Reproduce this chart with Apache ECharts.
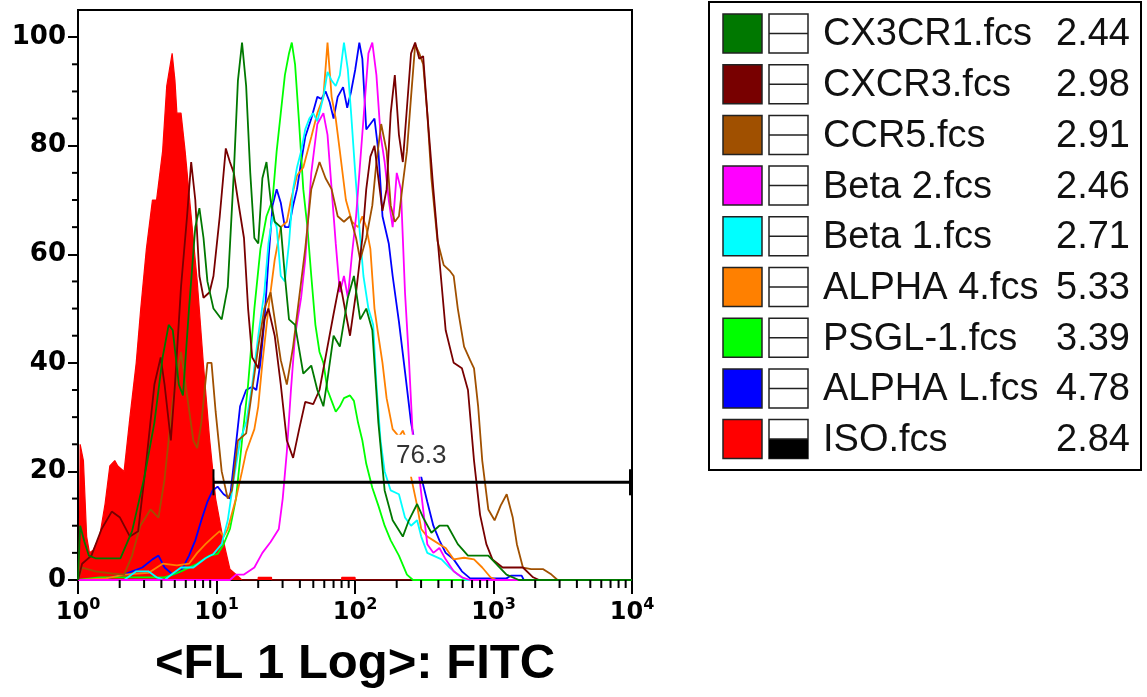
<!DOCTYPE html>
<html><head><meta charset="utf-8">
<script src="https://cdn.jsdelivr.net/npm/echarts@6/dist/echarts.min.js"></script>
<style>html,body{margin:0;padding:0;background:#fff}#c{width:1147px;height:697px}</style>
</head><body><div id="c"></div>
<script>
// x values are log-amplifier channels (64 channels per decade, 10^0..10^4 = 0..256); y = % of max
const channelsPerDecade = 64;
const xExponents = [0, 1, 2, 3, 4];
const yTicks = [0, 20, 40, 60, 80, 100];
const legendNames = ['CX3CR1.fcs','CXCR3.fcs','CCR5.fcs','Beta 2.fcs','Beta 1.fcs','ALPHA 4.fcs','PSGL-1.fcs','ALPHA L.fcs','ISO.fcs'];
const legendStats = ['2.44','2.98','2.91','2.46','2.71','5.33','3.39','4.78','2.84'];
const seriesColors = ['#007800','#780000','#A05000','#FF00FF','#00FFFF','#FF8000','#00FF00','#0000FF','#FF0000'];
const gateRange = [62.6, 256];
const gateLevel = 18;
const gateValue = '76.3';

const dataCX3CR1 = [[0,0],[1,10],[3,7],[5,4.5],[8.1,4],[13,4],[19.6,4],[25,9],[30.7,19],[35.3,29],[39.1,41],[41.9,47],[43.8,46],[46.6,36],[48.5,34],[51.3,50],[54.2,65],[56.1,68.5],[58,63],[59.8,55],[62.6,50],[66.4,48],[69.2,54],[72,75],[73.9,92],[75.8,99],[77.7,91],[79.6,75],[81.5,63],[83.3,62],[85.2,74],[87.1,77],[89,70],[90.9,66],[93.7,65],[95.6,56],[97.5,48],[100.3,47],[104.1,38],[107.8,39.5],[110.6,35],[113.4,32],[115.3,37],[118.1,45],[121,43],[124.7,52],[127.5,56],[130.4,48],[133.2,50],[136,46],[138.8,29],[141.7,16.5],[145.4,11],[150.1,8],[152.9,11],[156.7,14],[159.5,11.5],[163.3,8.7],[167,10],[170.8,10],[175.5,6.6],[180.2,4.5],[189.6,4.5],[198,1],[203.7,0],[256,0]];
const dataCXCR3 = [[0,0],[1.9,3],[6.2,4.5],[10.9,9.4],[15.6,12.6],[19.4,11.5],[24,8],[27.8,9],[31.6,22],[35.3,36],[38.2,41],[40,36],[42.9,25.7],[44.8,36],[47.6,54],[50.4,67],[52.3,77],[54.2,70],[56.1,56],[58,52],[60.8,53],[62.6,56],[65.5,67],[68.3,79.5],[70.2,77],[72,75],[73.9,70],[76.7,63],[78.6,50],[80.5,41],[83.3,39],[86.1,48],[88,50],[90.9,45],[93.7,36],[96.5,25.7],[99.4,22.5],[102.2,27.8],[105,32.8],[108.7,32.4],[111.6,35],[115.3,43],[118.1,49],[121,55],[123.8,49],[125.7,45],[128.5,53],[131.4,63],[133.2,72],[135.1,78],[137,80],[138.8,74],[140.7,68],[142.6,72],[144.5,86],[146.4,93],[148.3,82],[150.1,77],[152,87],[153.9,97],[155.8,99],[157.7,96],[159.5,96.5],[161.4,86],[164.2,72],[167,59],[169.9,46],[173.6,40],[177.4,39],[180.2,35],[183,22],[185.8,12],[188.7,6.6],[191.5,3.8],[196.2,2.3],[205.6,2.3],[210.3,0.5],[213.1,0],[256,0]];
const dataCCR5 = [[0,0],[1.9,2.3],[8.1,1.6],[15.6,1.2],[21.3,1],[25,4.5],[28.8,10],[33.5,13],[37.2,11.5],[40,18.6],[43.8,33],[47.6,42],[50.4,34],[53.3,25.7],[55.1,24.3],[57,29],[59.8,40],[61.7,40],[63.6,31],[66.4,20],[69.2,15],[71.1,16.5],[73.9,25.7],[77.7,27],[80.5,35],[83.3,43],[86.1,50],[89,53],[90.9,48],[93.7,40.5],[96.5,36],[99.4,43],[102.2,52],[105,61],[107.8,72],[111.6,77],[114.4,74],[117.2,72],[120,67],[122.9,66],[125.7,67],[128.5,63],[130.4,59],[133.2,63],[136,69],[137.9,77],[140.1,84],[142.6,79],[144.5,69],[146.4,66],[148.3,67],[150.1,73],[152,79],[153.9,89],[155.8,98.6],[157.7,97],[159.5,95],[161.4,86],[163.3,74],[166.1,62.5],[169,58],[171.7,57],[173.6,56],[175.5,50],[178.4,43],[181.2,40.5],[183,39],[184.9,32],[186.8,22],[189.6,13],[192.5,11],[195.3,13.7],[198.1,15.8],[200.9,11.5],[202.8,6.6],[205.6,2.3],[209.4,2],[215,2],[218.8,1],[221.6,0],[256,0]];
const dataBeta2 = [[0,0],[70.2,0],[73,1],[76.7,1],[81.5,2.3],[85.2,5],[89,7],[92.8,9.4],[94.6,15],[96.5,23.6],[98.4,35],[100.3,45],[103.1,52],[105,59],[107.8,75],[110.6,84],[113.4,86],[115.3,82],[117.2,72],[119.1,62],[121,53],[122.9,56],[124.7,52],[126.6,60],[128.5,67],[130.4,77],[132.3,87],[134.2,97],[136,99],[137.9,93],[139.8,82],[141.7,77],[143.6,70],[145.4,65],[147.3,75],[149.2,72],[151.1,53],[153,40],[154.8,25.7],[157.7,19],[159.5,13],[161.4,6.6],[164.2,5],[167,5.9],[169.9,3.8],[173.6,1.6],[177.4,0.5],[181.2,0],[256,0]];
const dataBeta1 = [[0,0],[21.3,0],[26.9,1.6],[32.5,1.6],[36.3,0.5],[40,0],[43.8,1.2],[47.6,2.3],[53.3,2.3],[58.9,4],[62.6,4.8],[66.4,6.6],[69.2,11],[72,18.6],[74.9,25.7],[77.7,29],[80.5,36],[83.3,45],[86.1,53],[88,62],[89.9,67],[91.8,65],[93.7,56],[95.6,55],[97.5,62],[99.4,72],[101.2,76],[103.1,79],[105,83],[106.9,85],[108.7,86],[110.6,84.5],[113.4,89],[115.3,93.6],[117.2,92],[119.1,91],[121,93],[122.9,99],[124.7,94],[126.2,86],[128.1,75],[130,65],[131.9,56],[134.2,50],[136.4,47],[137.9,36],[139.8,25.7],[141.7,20],[144.5,16.5],[148.3,15.8],[151.1,11.5],[153.9,10],[156.7,11],[158.6,8],[161.4,5],[164.2,4.5],[168,3.8],[171.7,2.3],[175.5,1],[179.3,0],[256,0]];
const dataAlpha4 = [[0,0],[13,0.3],[21.3,1],[32.5,1.3],[39.1,3],[45.7,2.7],[51.3,3],[55.1,5],[58.9,6.6],[62.6,8],[65.5,9],[67.3,8],[69.2,9.4],[73,15],[75.8,20],[77.7,23.6],[79.6,25.7],[81.5,27.8],[83.3,32],[85.2,40],[88,50],[90.9,59],[93.7,65],[96.5,66],[98.4,70],[101.2,74.5],[104.1,76],[107.8,81.6],[110.6,86],[113.4,89],[115.3,99],[117.2,89],[119.1,85],[121,79],[123.8,70],[126.6,66],[129.4,65],[131.4,67],[133.2,65],[135.1,61],[137,50],[138.8,45],[140.7,40],[142.6,33.5],[145.4,27.8],[148.3,26.4],[150.1,27.5],[152,25.7],[153.9,19],[156.7,13.7],[158.6,9.4],[161.4,8],[164.2,7.3],[167,6.6],[169.9,5.9],[173.6,3.8],[178.4,4.1],[183,3.8],[186.8,2.3],[190.6,0.5],[193.4,0],[256,0]];
const dataPSGL1 = [[0,0],[10,0.5],[40,0.5],[43.8,1],[47.6,1.6],[55.1,3],[60.8,4.5],[64.5,4.8],[67.3,6.6],[70.2,9.4],[73,15],[75.8,25.7],[78.6,36],[81.5,50],[84.3,61],[87.1,67],[89.9,70],[91.8,79],[93.7,86],[95.6,93],[97.5,97],[98.8,99],[100.3,95],[102.2,84],[104.1,72],[106,65],[107.8,56],[109.7,47],[111.6,42],[113.4,40],[115.3,35],[117.2,33],[119.1,31],[121,32],[122.9,33.5],[125.7,34],[127.5,33],[129.4,29],[131.4,25.7],[133.2,21.4],[136,17],[138.8,13.7],[141.7,10],[144.5,7.3],[148.3,4.5],[152,1],[154.8,0],[256,0]];
const dataAlphaL = [[0,0],[13,0.3],[21.3,1],[25,1.6],[29.7,2.3],[34.4,3.8],[37.2,4.5],[40,2.3],[43.8,1],[47.6,1.6],[51.3,4.5],[54.2,7.3],[57,11],[59.8,14.4],[62.2,16.5],[64.5,17.2],[67.3,15.8],[70.2,15],[73,25],[74.9,32],[77.7,35],[80.5,35.6],[82.4,35],[84.3,40],[86.1,47.6],[88,59],[89.9,69],[91.8,72],[93.7,69.5],[95.6,65],[97.5,65],[99.4,69],[101.2,72],[103.1,77],[105,81.6],[107.8,85],[110.6,89],[112.5,88.6],[114.4,90],[116.3,88],[118.1,85],[120,89],[122.5,90.8],[124.4,87],[126.2,90],[128.1,94],[130,99],[131.4,96],[133.2,83],[135.1,84],[137,85],[138.8,79],[140.7,67],[143.6,62],[145.4,56],[148.3,47.6],[151.1,38.4],[153.9,29],[158.6,19],[161.4,14.4],[164.2,10],[167,7.3],[169.9,5],[173.6,3.8],[177.4,1.6],[181.2,0.3],[198,0.3],[200,0.8],[205,0.8],[206,0],[256,0]];
const dataISO = [[0.5,0],[1,25],[2.5,22],[4,8],[5.3,5],[7,5.5],[10,8],[12.5,14],[14.7,21],[17,22],[18.4,21],[21.3,20],[24,30],[26.9,40],[29,50],[31.6,61],[34.4,70],[36.3,70],[39.1,79],[41,91],[43.5,97],[44.8,92],[45.7,86],[47.6,86],[49.5,79],[52.3,67],[55.1,55],[57.9,40],[60.8,26],[63.6,15],[67.3,7],[70.2,2],[73,1],[75.8,0],[83.2,0],[83.3,0.5],[89.4,0.5],[89.5,0],[121.8,0],[121.9,0.5],[128,0.5],[128.1,0],[256,0]];

const seriesData = [dataCX3CR1, dataCXCR3, dataCCR5, dataBeta2, dataBeta1, dataAlpha4, dataPSGL1, dataAlphaL, dataISO];

// minor tick positions (log spacing inside each decade)
const minorX = [];
for (let d = 0; d < 4; d++) for (let k = 2; k <= 9; k++) minorX.push([channelsPerDecade * (d + Math.log10(k))]);
const minorY = [];
for (let v = 5; v < 100; v += 5) if (v % 20) minorY.push([v]);

const series = [];
for (let i = seriesData.length - 1; i >= 0; i--) {
  const isIso = legendNames[i] === 'ISO.fcs';
  series.push({
    type: 'line', name: legendNames[i], data: seriesData[i], showSymbol: false, symbol: 'none',
    lineStyle: { color: seriesColors[i], width: isIso ? 1.2 : 1.8 },
    itemStyle: { color: seriesColors[i] },
    areaStyle: isIso ? { color: seriesColors[i], opacity: 1 } : undefined,
    clip: true, z: 2
  });
}
series.push({
  type: 'custom', name: 'minorX', data: minorX, clip: false, z: 3,
  renderItem: (p, api) => { const c = api.coord([api.value(0), 0]);
    return { type: 'line', shape: { x1: c[0], y1: c[1], x2: c[0], y2: c[1] + 8 }, style: { stroke: '#000', lineWidth: 2 } }; }
});
series.push({
  type: 'custom', name: 'minorY', data: minorY, clip: false, z: 3,
  renderItem: (p, api) => { const c = api.coord([0, api.value(0)]);
    return { type: 'line', shape: { x1: c[0] - 6, y1: c[1], x2: c[0], y2: c[1] }, style: { stroke: '#000', lineWidth: 2 } }; }
});
series.push({
  type: 'custom', name: 'gate', data: [[gateRange[0], gateLevel]], clip: false, z: 5,
  renderItem: (p, api) => {
    const a = api.coord([gateRange[0], gateLevel]);
    const b = api.coord([gateRange[1], gateLevel]);
    const h = api.size([0, 2.4])[1];
    const lp = api.coord([158.6, 22.9]);
    return { type: 'group', children: [
      { type: 'line', shape: { x1: a[0], y1: a[1], x2: b[0], y2: b[1] }, style: { stroke: '#000', lineWidth: 3 } },
      { type: 'line', shape: { x1: a[0], y1: a[1] - h, x2: a[0], y2: a[1] + h }, style: { stroke: '#000', lineWidth: 2 } },
      { type: 'line', shape: { x1: b[0] - 1, y1: b[1] - h, x2: b[0] - 1, y2: b[1] + h }, style: { stroke: '#000', lineWidth: 4 } },
      { type: 'text', x: lp[0], y: lp[1], style: { text: gateValue, fill: '#333', font: '26px "Liberation Sans"', align: 'center', verticalAlign: 'middle', backgroundColor: '#fff', padding: [8, 3] } }
    ] };
  }
});

// legend drawn as graphics
const graphics = [{ type: 'rect', shape: { x: 709, y: 2, width: 432, height: 468 }, style: { fill: '#fff', stroke: '#000', lineWidth: 2 }, z: 0 }];
for (let i = 0; i < legendNames.length; i++) {
  const top = 14 + i * 50.7;
  graphics.push({ type: 'rect', shape: { x: 723, y: top, width: 39, height: 39 }, style: { fill: seriesColors[i], stroke: '#222', lineWidth: 1.5 }, z: 1 });
  graphics.push({ type: 'rect', shape: { x: 769, y: top, width: 39, height: 39 }, style: { fill: '#fff', stroke: '#222', lineWidth: 1.5 }, z: 1 });
  if (legendNames[i] === 'ISO.fcs') {
    graphics.push({ type: 'rect', shape: { x: 769, y: top + 19.5, width: 39, height: 19.5 }, style: { fill: '#000' }, z: 2 });
  }
  graphics.push({ type: 'line', shape: { x1: 769, y1: top + 19.5, x2: 808, y2: top + 19.5 }, style: { stroke: '#222', lineWidth: 1.5 }, z: 2 });
  graphics.push({ type: 'text', x: 823, y: top + 21, style: { text: legendNames[i], fill: '#111', font: '38px "Liberation Sans"', verticalAlign: 'middle', align: 'left' }, z: 2 });
  graphics.push({ type: 'text', x: 1130, y: top + 21, style: { text: legendStats[i], fill: '#111', font: '38px "Liberation Sans"', verticalAlign: 'middle', align: 'right' }, z: 2 });
}

const chart = echarts.init(document.getElementById('c'), null, { renderer: 'canvas' });
chart.setOption({
  animation: false,
  backgroundColor: '#fff',
  grid: { left: 78, right: 515, top: 10, bottom: 117, show: true, borderColor: '#000', borderWidth: 2, backgroundColor: 'transparent' },
  xAxis: {
    type: 'value', min: 0, max: xExponents[xExponents.length - 1] * channelsPerDecade, interval: channelsPerDecade,
    axisLine: { show: true, lineStyle: { color: '#000', width: 2 } },
    axisTick: { show: true, length: 14, lineStyle: { color: '#000', width: 2 } },
    splitLine: { show: false },
    axisLabel: {
      margin: 17, color: '#000',
      formatter: v => '{b|10}{s|' + xExponents[Math.round(v / channelsPerDecade)] + '}',
      rich: {
        b: { fontFamily: 'DejaVu Sans', fontWeight: 'bold', fontSize: 24, color: '#000', lineHeight: 28, verticalAlign: 'bottom' },
        s: { fontFamily: 'DejaVu Sans', fontWeight: 'bold', fontSize: 16, color: '#000', lineHeight: 16, verticalAlign: 'top' }
      }
    },
    name: '<FL 1 Log>: FITC', nameLocation: 'middle', nameGap: 60,
    nameTextStyle: { fontFamily: 'Liberation Sans', fontWeight: 'bold', fontSize: 49, color: '#000' }
  },
  yAxis: {
    type: 'value', min: 0, max: 105, interval: 20,
    axisLine: { show: true, lineStyle: { color: '#000', width: 2 } },
    axisTick: { show: true, length: 10, customValues: yTicks, lineStyle: { color: '#000', width: 2 } },
    splitLine: { show: false },
    axisLabel: { customValues: yTicks, margin: 12, fontFamily: 'DejaVu Sans', fontWeight: 'bold', fontSize: 26, color: '#000' }
  },
  graphic: graphics,
  series: series
});
</script></body></html>
